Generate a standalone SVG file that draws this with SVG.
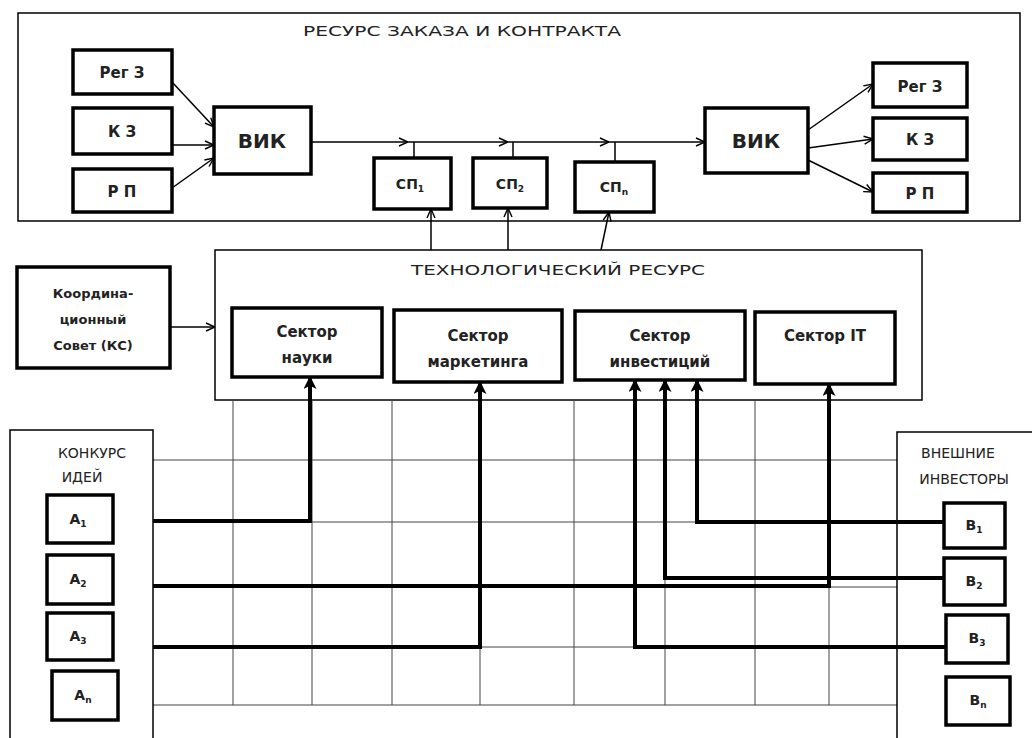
<svg xmlns="http://www.w3.org/2000/svg" width="1032" height="738" viewBox="0 0 1032 738">
<defs>
<marker id="open" viewBox="0 0 10 10" refX="10" refY="5" markerWidth="10" markerHeight="10" markerUnits="userSpaceOnUse" orient="auto">
<path d="M1,1 L10,5 L1,9" fill="none" stroke="#000" stroke-width="1.4"/>
</marker>
<marker id="thickup" viewBox="0 0 12 12" refX="11" refY="6" markerWidth="13" markerHeight="13" markerUnits="userSpaceOnUse" orient="auto">
<path d="M0,0 L12,6 L0,12 L3,6 Z" fill="#000"/>
</marker>
</defs>
<style>
.frame{fill:#fff;stroke:#000;stroke-width:1.5}
.box{fill:#fff;stroke:#000;stroke-width:3.5}
.grid{stroke:#444;stroke-width:1;fill:none}
.thin{stroke:#000;stroke-width:1.5;fill:none}
.fat{stroke:#000;stroke-width:4;fill:none}
.t{font-family:"DejaVu Sans","Liberation Sans",sans-serif;font-weight:bold;fill:#222;text-anchor:middle}
.h{font-family:"DejaVu Sans","Liberation Sans",sans-serif;fill:#222;text-anchor:middle;font-size:14px}
</style>
<rect width="1032" height="738" fill="#fff"/>

<g id="order-resource">
<rect class="frame" x="18" y="13" width="1002" height="208"/>
<text class="h" x="462" y="36" textLength="318" lengthAdjust="spacingAndGlyphs">РЕСУРС  ЗАКАЗА И КОНТРАКТА</text>
</g>

<g id="tech-resource">
<rect class="frame" x="215" y="250" width="707" height="150"/>
<text class="h" x="558" y="275" textLength="294" lengthAdjust="spacingAndGlyphs">ТЕХНОЛОГИЧЕСКИЙ  РЕСУРС</text>
</g>

<g id="grid">
<path class="grid" d="M153,460H897M153,522H897M153,587H897M153,647H897M153,705H897M233,400V705M312,400V705M392,400V705M480,400V705M574,400V705M665,400V705M755,400V705M829,400V705"/>
</g>

<g id="contest">
<rect class="frame" x="10" y="430" width="143" height="320"/>
<text class="h" x="92" y="458" font-size="15">КОНКУРС</text>
<text class="h" x="82" y="482" font-size="15">ИДЕЙ</text>
</g>

<g id="investors">
<rect class="frame" x="897" y="432" width="150" height="320"/>
<text class="h" x="958" y="458" font-size="15">ВНЕШНИЕ</text>
<text class="h" x="964" y="484" font-size="15">ИНВЕСТОРЫ</text>
</g>

<g id="reg-l"><rect class="box" x="73" y="50" width="99" height="44"/><text class="t" x="122" y="78" font-size="15">Рег  З</text></g>
<g id="kz-l"><rect class="box" x="73" y="108" width="99" height="46"/><text class="t" x="122" y="137" font-size="15">К З</text></g>
<g id="rp-l"><rect class="box" x="73" y="169" width="99" height="43"/><text class="t" x="122" y="197" font-size="15">Р П</text></g>
<g id="vik-l"><rect class="box" x="214" y="107" width="97" height="67"/><text class="t" x="262" y="148" font-size="20">ВИК</text></g>
<g id="sp1"><rect class="box" x="374" y="158" width="77" height="51"/><text class="t" x="410" y="189" font-size="14">СП<tspan font-size="9" dy="3">1</tspan></text></g>
<g id="sp2"><rect class="box" x="473" y="158" width="74" height="50"/><text class="t" x="510" y="189" font-size="14">СП<tspan font-size="9" dy="3">2</tspan></text></g>
<g id="spn"><rect class="box" x="575" y="162" width="79" height="50"/><text class="t" x="614" y="192" font-size="14">СП<tspan font-size="9" dy="3">n</tspan></text></g>
<g id="vik-r"><rect class="box" x="705" y="108" width="103" height="65"/><text class="t" x="756" y="148" font-size="20">ВИК</text></g>
<g id="reg-r"><rect class="box" x="873" y="63" width="94" height="44"/><text class="t" x="920" y="92" font-size="15">Рег  З</text></g>
<g id="kz-r"><rect class="box" x="873" y="118" width="94" height="42"/><text class="t" x="920" y="145" font-size="15">К З</text></g>
<g id="rp-r"><rect class="box" x="873" y="173" width="94" height="39"/><text class="t" x="920" y="199" font-size="15">Р П</text></g>

<g id="council"><rect class="box" x="17" y="267" width="153" height="101"/>
<text class="t" x="93" y="298" font-size="13">Координа-</text>
<text class="t" x="93" y="324" font-size="13">ционный</text>
<text class="t" x="93" y="350" font-size="13">Совет (КС)</text></g>

<g id="sec-science"><rect class="box" x="232" y="308" width="150" height="69"/>
<text class="t" x="307" y="337" font-size="15">Сектор</text><text class="t" x="307" y="363" font-size="15">науки</text></g>
<g id="sec-marketing"><rect class="box" x="394" y="310" width="168" height="72"/>
<text class="t" x="478" y="341" font-size="15">Сектор</text><text class="t" x="478" y="367" font-size="15">маркетинга</text></g>
<g id="sec-invest"><rect class="box" x="575" y="311" width="170" height="69"/>
<text class="t" x="660" y="341" font-size="15">Сектор</text><text class="t" x="660" y="367" font-size="15">инвестиций</text></g>
<g id="sec-it"><rect class="box" x="755" y="312" width="140" height="72"/>
<text class="t" x="825" y="341" font-size="15">Сектор  IT</text></g>

<g id="a1"><rect class="box" x="47" y="495" width="66" height="48"/><text class="t" x="78" y="524" font-size="14">A<tspan font-size="9" dy="3">1</tspan></text></g>
<g id="a2"><rect class="box" x="47" y="555" width="66" height="49"/><text class="t" x="78" y="584" font-size="14">A<tspan font-size="9" dy="3">2</tspan></text></g>
<g id="a3"><rect class="box" x="47" y="613" width="66" height="47"/><text class="t" x="78" y="641" font-size="14">A<tspan font-size="9" dy="3">3</tspan></text></g>
<g id="an"><rect class="box" x="52" y="671" width="66" height="49"/><text class="t" x="83" y="700" font-size="14">A<tspan font-size="9" dy="3">n</tspan></text></g>

<g id="b1"><rect class="box" x="944" y="503" width="61" height="45"/><text class="t" x="974" y="530" font-size="14">B<tspan font-size="9" dy="3">1</tspan></text></g>
<g id="b2"><rect class="box" x="944" y="558" width="61" height="47"/><text class="t" x="974" y="586" font-size="14">B<tspan font-size="9" dy="3">2</tspan></text></g>
<g id="b3"><rect class="box" x="946" y="615" width="62" height="48"/><text class="t" x="977" y="643" font-size="14">B<tspan font-size="9" dy="3">3</tspan></text></g>
<g id="bn"><rect class="box" x="946" y="677" width="64" height="48"/><text class="t" x="978" y="705" font-size="14">B<tspan font-size="9" dy="3">n</tspan></text></g>

<g id="connectors">
<path class="thin" marker-end="url(#open)" d="M172,82L214,127"/>
<path class="thin" marker-end="url(#open)" d="M172,145L214,145"/>
<path class="thin" marker-end="url(#open)" d="M172,188L214,158"/>
<path class="thin" marker-end="url(#open)" d="M311,142H408"/>
<path class="thin" marker-end="url(#open)" d="M408,142H508"/>
<path class="thin" marker-end="url(#open)" d="M508,142H609"/>
<path class="thin" marker-end="url(#open)" d="M609,142H705"/>
<path class="thin" d="M414,142V158M513,142V158M615,142V162"/>
<path class="thin" marker-end="url(#open)" d="M808,130L873,84"/>
<path class="thin" marker-end="url(#open)" d="M808,148L873,139"/>
<path class="thin" marker-end="url(#open)" d="M808,160L873,192"/>
<path class="thin" marker-end="url(#open)" d="M431,250V209"/>
<path class="thin" marker-end="url(#open)" d="M508,250V208"/>
<path class="thin" marker-end="url(#open)" d="M601,250L609,212"/>
<path class="thin" marker-end="url(#open)" d="M170,327H215"/>
<path class="fat" marker-end="url(#thickup)" d="M153,521H310V377"/>
<path class="fat" marker-end="url(#thickup)" d="M153,647H480V382"/>
<path class="fat" marker-end="url(#thickup)" d="M153,586H829V384"/>
<path class="fat" marker-end="url(#thickup)" d="M944,522H697V380"/>
<path class="fat" marker-end="url(#thickup)" d="M944,578H665V380"/>
<path class="fat" marker-end="url(#thickup)" d="M946,647H635V380"/>
</g>
</svg>
